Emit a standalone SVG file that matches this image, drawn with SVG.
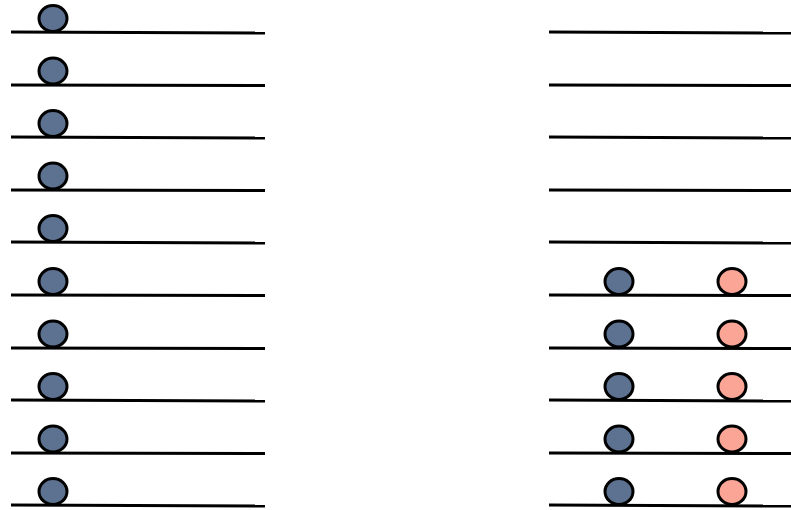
<svg xmlns="http://www.w3.org/2000/svg" width="791" height="510" viewBox="0 0 791 510">
<style>
.ln{stroke:#000;stroke-width:3;fill:none}
.b{fill:#5d7290;stroke:#000;stroke-width:3}
.p{fill:#fba596;stroke:#000;stroke-width:3}
</style>
<rect width="791" height="510" fill="#fff"/>
<g id="connectors">
<line class="ln" x1="11" y1="32" x2="265" y2="33"/>
<line class="ln" x1="11" y1="85" x2="265" y2="85.5"/>
<line class="ln" x1="11" y1="137" x2="265" y2="138"/>
<line class="ln" x1="11" y1="190" x2="265" y2="190.5"/>
<line class="ln" x1="11" y1="242" x2="265" y2="243"/>
<line class="ln" x1="11" y1="295" x2="265" y2="295.5"/>
<line class="ln" x1="11" y1="348" x2="265" y2="348.5"/>
<line class="ln" x1="11" y1="400" x2="265" y2="401"/>
<line class="ln" x1="11" y1="453" x2="265" y2="453.5"/>
<line class="ln" x1="11" y1="505" x2="265" y2="506"/>
<line class="ln" x1="549" y1="32" x2="791" y2="33"/>
<line class="ln" x1="549" y1="85" x2="791" y2="85.5"/>
<line class="ln" x1="549" y1="137" x2="791" y2="138"/>
<line class="ln" x1="549" y1="190" x2="791" y2="190.5"/>
<line class="ln" x1="549" y1="242" x2="791" y2="243"/>
<line class="ln" x1="549" y1="295" x2="791" y2="295.5"/>
<line class="ln" x1="549" y1="348" x2="791" y2="348.5"/>
<line class="ln" x1="549" y1="400" x2="791" y2="401"/>
<line class="ln" x1="549" y1="453" x2="791" y2="453.5"/>
<line class="ln" x1="549" y1="505" x2="791" y2="506"/>
</g>
<g id="left-balls">
<ellipse class="b" cx="53" cy="18.5" rx="14" ry="13"/>
<ellipse class="b" cx="53" cy="71" rx="14" ry="13"/>
<ellipse class="b" cx="53" cy="123.5" rx="14" ry="13"/>
<ellipse class="b" cx="53" cy="176" rx="14" ry="13"/>
<ellipse class="b" cx="53" cy="228.5" rx="14" ry="13"/>
<ellipse class="b" cx="53" cy="281.5" rx="14" ry="13"/>
<ellipse class="b" cx="53" cy="334" rx="14" ry="13"/>
<ellipse class="b" cx="53" cy="386.5" rx="14" ry="13"/>
<ellipse class="b" cx="53" cy="439" rx="14" ry="13"/>
<ellipse class="b" cx="53" cy="491.5" rx="14" ry="13"/>
</g>
<g id="right-blue-balls">
<ellipse class="b" cx="619" cy="281.5" rx="14" ry="13"/>
<ellipse class="b" cx="619" cy="334" rx="14" ry="13"/>
<ellipse class="b" cx="619" cy="386.5" rx="14" ry="13"/>
<ellipse class="b" cx="619" cy="439" rx="14" ry="13"/>
<ellipse class="b" cx="619" cy="491.5" rx="14" ry="13"/>
</g>
<g id="right-pink-balls">
<ellipse class="p" cx="732" cy="281.5" rx="14" ry="13"/>
<ellipse class="p" cx="732" cy="334" rx="14" ry="13"/>
<ellipse class="p" cx="732" cy="386.5" rx="14" ry="13"/>
<ellipse class="p" cx="732" cy="439" rx="14" ry="13"/>
<ellipse class="p" cx="732" cy="491.5" rx="14" ry="13"/>
</g>
</svg>
